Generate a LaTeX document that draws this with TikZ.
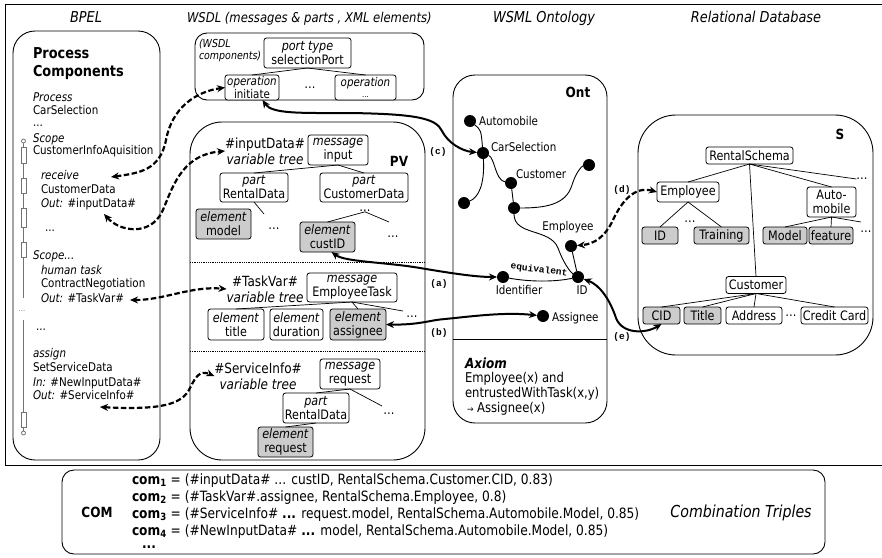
\documentclass[tikz,border=0pt]{standalone}
\usepackage{fontspec}
\setmainfont{DejaVu Sans}[FakeStretch=0.86]
\newfontfamily\codefont{Liberation Mono}
\usetikzlibrary{arrows.meta}
\newcommand\fsz[1]{\fontsize{#1}{#1}\selectfont}

\begin{document}
\begin{tikzpicture}[x=1pt,y=-1pt,
  every node/.style={inner sep=0pt,outer sep=0pt},
  cont/.style={draw,line width=0.9pt,rounded corners=#1},
  bx/.style={draw,line width=0.8pt,rounded corners=2.5pt,fill=white,align=center,font=\fontsize{13}{14}\selectfont},
  gbx/.style={bx,fill=black!20},
  rb/.style={bx,minimum height=17pt,font=\fsz{13}},
  rg/.style={rb,fill=black!20},
  bt/.style={anchor=base west,font=\fsz{12}},
  hdr/.style={anchor=base,font=\itshape\fsz{15}},
  vt/.style={align=center,font=\fontsize{14}{16}\selectfont},
  dt/.style={font=\fsz{13}},
  tl/.style={line width=0.7pt},
  odot/.style={circle,fill=black,minimum size=12pt},
  ol/.style={font=\fsz{12}},
  oe/.style={line width=0.9pt},
  dsh/.style={line width=2.2pt,dash pattern=on 5.5pt off 2.5pt,{Stealth[length=8pt,width=7pt]}-{Stealth[length=8pt,width=7pt]}},
  sol/.style={line width=2pt,{Stealth[length=8pt,width=7pt]}-{Stealth[length=8pt,width=7pt]}},
  lab/.style={font=\codefont\bfseries\fsz{9.5}},
  cl/.style={anchor=base west,font=\fsz{14.2}},
]
\useasboundingbox (0,0) rectangle (882,557);

% outer frame
\draw[line width=1pt] (884,4) -- (5,4) -- (5,465) -- (884,465);

% column headings
\node[hdr] (hBpel) at (86,22.5) {BPEL};
\node[anchor=base west,font=\itshape\fsz{13.5}] (hWsdl) at (187,22.5) {WSDL (messages \& parts , XML elements)};
\node[hdr] (hWsml) at (544,22.5) {WSML Ontology};
\node[hdr] (hRel) at (756,22.5) {Relational Database};

% ---------------- BPEL process components ----------------
\node[cont=22pt,minimum width=147pt,minimum height=429pt] (bpelBox) at (86.5,245.5) {};
\node[bt,font=\bfseries\fsz{15}] (pcA) at (33,58) {Process};
\node[bt,font=\bfseries\fsz{15}] (pcB) at (33,76) {Components};
\node[bt] (prL) at (33,101) {\textit{Process}};
\node[bt] (prN) at (33,114.5) {CarSelection};
\node[bt] (dA) at (33,126) {...};
\node[bt] (scL) at (33,142) {\textit{Scope}};
\node[bt] (scN) at (33,154.5) {CustomerInfoAquisition};
\node[bt] (rcL) at (41,179) {\textit{receive}};
\node[bt] (rcN) at (41,193.5) {CustomerData};
\node[bt] (rcO) at (41,207.5) {\textit{Out:} \#inputData\#};
\node[bt] (dB) at (45,231) {...};
\node[bt] (sc2) at (33,259.5) {\textit{Scope...}};
\node[bt] (htL) at (41,274.5) {\textit{human task}};
\node[bt] (htN) at (41,287.5) {ContractNegotiation};
\node[bt] (htO) at (41,302.5) {\textit{Out:} \#TaskVar\#};
\node[bt] (dC) at (36,330) {...};
\node[bt] (asL) at (33,357.5) {\textit{assign}};
\node[bt] (asN) at (33,371.5) {SetServiceData};
\node[bt] (asI) at (33,386.5) {\textit{In:} \#NewInputData\#};
\node[bt] (asO) at (33,399.5) {\textit{Out:} \#ServiceInfo\#};

% sequence line with activity marks
\draw[black!55,line width=0.8pt] (23.5,143) -- (23.5,298);
\draw[black!55,line width=0.8pt] (23.5,320) -- (23.5,431);
\draw[black!55,line width=0.8pt,fill=white] (23.5,141) circle (2pt);
\draw[black!55,line width=0.8pt,fill=white] (23.5,433) circle (2pt);
\foreach \a/\b in {147/163,178/193,208/227,242/257,412/427}
  \draw[black!55,line width=0.8pt,fill=white] (21,\a) rectangle (26,\b);
\node[text=black!50,font=\fsz{8}] (gap) at (22,311) {...};

% ---------------- WSDL components ----------------
\node[cont=12pt,minimum width=229pt,minimum height=67pt] (wsdlBox) at (309.5,66.5) {};
\node[anchor=base west,align=left,font=\itshape\fontsize{11}{12.5}\selectfont] (wcomp) at (199,59.5) {(WSDL\\components)};
\node[bx,minimum width=87pt,minimum height=30pt] (pType) at (307.5,53) {\textit{port type}\\selectionPort};
\node[bx,minimum width=54pt,minimum height=25pt,font=\fontsize{12}{11.5}\selectfont] (opInit) at (252,87.5) {\textit{operation}\\initiate};
\node[dt] (opDots) at (310,88) {…};
\node[bx,minimum width=61pt,minimum height=25pt,font=\fontsize{12}{11.5}\selectfont] (opMore) at (365.5,87.5) {\textit{operation}\\{\fsz{8}...}};
\draw[tl] (pType.south) -- (opInit.north);
\draw[tl] (pType.south) -- (opMore.north);

% ---------------- process variables ----------------
\node[cont=32pt,minimum width=235pt,minimum height=338pt] (pvBox) at (307.5,291) {};
\draw[densely dotted,line width=0.8pt] (190,262) -- (425,262);
\draw[densely dotted,line width=0.8pt] (190,351) -- (425,351);
\node[font=\bfseries\fsz{14}] (pvT) at (399,161) {PV};

% #inputData#
\node[vt] (ivar) at (265,151) {\#inputData\#\\\textit{variable tree}};
\node[bx,minimum width=60pt,minimum height=30pt] (mIn) at (338,150) {\textit{message}\\input};
\node[bx,minimum width=68pt,minimum height=29pt] (pRD) at (254,187.5) {\textit{part}\\RentalData};
\node[bx,minimum width=88pt,minimum height=29pt] (pCD) at (364,187.5) {\textit{part}\\CustomerData};
\node[gbx,minimum width=55pt,minimum height=30pt] (eModel) at (223.5,224) {\textit{element}\\model};
\node[dt] (d11) at (274,229) {…};
\node[dt] (d12) at (365,211) {…};
\node[gbx,minimum width=55pt,minimum height=30pt] (eCust) at (327.5,237) {\textit{element}\\custID};
\node[dt] (d13) at (393,237) {…};
\coordinate (d11top) at (264,214);
\coordinate (d13top) at (389,222);
\draw[tl] (mIn.south) -- (pRD.north);
\draw[tl] (mIn.south) -- (pCD.north);
\draw[tl] (pRD.south) -- (d11top);
\draw[tl] (d12.south) -- (eCust.north);
\draw[tl] (d12.south) -- (d13top);

% #TaskVar#
\node[vt] (tvar) at (265,289) {\#TaskVar\#\\\textit{variable tree}};
\node[bx,minimum width=90pt,minimum height=29pt] (mET) at (352,287.5) {\textit{message}\\EmployeeTask};
\node[bx,minimum width=56pt,minimum height=31pt] (eTitle) at (236,324.5) {\textit{element}\\title};
\node[bx,minimum width=53pt,minimum height=31pt] (eDur) at (296.5,324.5) {\textit{element}\\duration};
\node[gbx,minimum width=56pt,minimum height=31pt] (eAssg) at (358,324.5) {\textit{element}\\assignee};
\node[dt] (d21) at (412,317) {…};
\coordinate (d21top) at (403,311);
\draw[tl] (mET.south) -- (eTitle.north);
\draw[tl] (mET.south) -- (eAssg.north);
\draw[tl] (mET.south) -- (d21top);

% #ServiceInfo#
\node[vt] (svar) at (258,376) {\#ServiceInfo\#\\\textit{variable tree}};
\node[bx,minimum width=60pt,minimum height=30pt] (mReq) at (350,374) {\textit{message}\\request};
\node[bx,minimum width=66pt,minimum height=30pt] (pRD2) at (316,408) {\textit{part}\\RentalData};
\node[gbx,minimum width=55pt,minimum height=30pt] (eReq) at (285.5,442) {\textit{element}\\request};
\node[dt] (d31) at (389,414) {…};
\coordinate (d31top) at (382,406);
\draw[tl] (mReq.south) -- (pRD2.north);
\draw[tl] (mReq.south) -- (d31top);
\draw[tl] (pRD2.south) -- (eReq.north);

% ---------------- ontology ----------------
\node[cont=22pt,minimum width=154pt,minimum height=348pt] (ontBox) at (530,249) {};
\draw[line width=0.9pt] (453,339) -- (607,339);
\node[font=\bfseries\fsz{14}] (ontT) at (578,92) {Ont};

\node[odot] (oAuto) at (470,121) {};
\node[odot] (oCar) at (483,153) {};
\node[odot] (oCust) at (511,183) {};
\node[odot] (oTR) at (589,165) {};
\node[odot] (oLeft) at (464,203) {};
\node[odot] (oJn) at (514,208) {};
\node[odot] (oEmp) at (571,246) {};
\node[odot] (oID) at (578,277) {};
\node[odot] (oIdent) at (503,277) {};
\node[odot] (oAssg) at (543,316) {};

\node[ol,anchor=west] (lAuto) at (479,121) {Automobile};
\node[ol,anchor=west] (lCar) at (491,147) {CarSelection};
\node[ol,anchor=west] (lCust) at (516,174) {Customer};
\node[ol] (lEmp) at (568,227) {Employee};
\node[ol] (lIdent) at (519,290) {Identifier};
\node[ol] (lID) at (582,290) {ID};
\node[ol,anchor=west] (lAssg) at (552,318) {Assignee};

\draw[oe] (oAuto) .. controls (481,130) .. (oCar);
\draw[oe] (oCar) .. controls (485,185) and (478,198) .. (oLeft);
\draw[oe] (oCar) .. controls (495,158) and (495,180) .. (oCust);
\draw[oe] (oCust) -- (oJn);
\draw[oe] (oJn) .. controls (545,208) and (566,205) .. (572,185) .. controls (576,172) and (582,166) .. (oTR);
\draw[oe] (oJn) .. controls (514,236) and (550,228) .. (558,248) .. controls (563,262) and (570,272) .. (oID);
\draw[oe] (oEmp) -- (oID);
\draw[oe] (oIdent) .. controls (530,282) and (555,282) .. (oID);
\node[font=\codefont\bfseries\fsz{9.5},rotate=-7] (eqv) at (539,270) {equivalent};

\node[anchor=base west,font=\bfseries\itshape\fsz{14}] (axT) at (465,368) {Axiom};
\node[anchor=base west,align=left,font=\fontsize{13.5}{15}\selectfont] (axB) at (465,412.5) {Employee(x) and\\entrustedWithTask(x,y)\\\hspace{2pt}{\fsz{9}→} Assignee(x)};

% ---------------- relational schema ----------------
\node[cont=38pt,minimum width=235pt,minimum height=240pt] (sBox) at (755.5,235) {};
\node[font=\bfseries\fsz{14}] (sT) at (840,134) {S};
\node[rb,minimum width=87pt] (rRS) at (749.5,155.5) {RentalSchema};
\node[rb,minimum width=62pt,minimum height=20pt] (rEmp) at (688,192) {Employee};
\node[rb,minimum width=49pt,minimum height=30pt,font=\fontsize{13}{14}\selectfont] (rAuto) at (831.5,202) {Auto-\\mobile};
\node[rg,minimum width=36pt] (rID) at (660,235.5) {ID};
\node[rg,minimum width=55pt] (rTr) at (721.5,235.5) {Training};
\node[rg,minimum width=44pt] (rModel) at (785,235.5) {Model};
\node[rg,minimum width=44pt] (rFeat) at (831,235.5) {feature};
\node[rb,minimum width=60pt] (rCust) at (756,285) {Customer};
\node[rg,minimum width=37pt] (rCID) at (661.5,315.5) {CID};
\node[rg,minimum width=37pt] (rTitle) at (702.5,315.5) {Title};
\node[rb,minimum width=56pt] (rAddr) at (754,315.5) {Address};
\node[rb,minimum width=67pt] (rCC) at (834.5,315.5) {Credit Card};
\node[dt] (rdA) at (862,179) {…};
\node[dt] (rdB) at (690,222) {…};
\node[dt] (rdC) at (866,232) {…};
\node[dt] (rdD) at (791,316) {…};
\coordinate (rdCtop) at (861,222);
\draw[tl] (rRS.south) -- (rEmp.north);
\draw[tl] (rRS.south) -- (rCust.north);
\draw[tl] (rRS.south) -- (rAuto.north);
\draw[tl] (rRS.south) -- (rdA.west);
\draw[tl] (rEmp.south) -- (rID.north);
\draw[tl] (rEmp.south) -- (rTr.north);
\draw[tl] (rAuto.south) -- (rModel.north);
\draw[tl] (rAuto.south) -- (rFeat.north);
\draw[tl] (rAuto.south) -- (rdCtop);
\draw[tl] (rCust.south) -- (rCID.north);
\draw[tl] (rCust.south) -- (rTitle.north);
\draw[tl] (rCust.south) -- (rAddr.north);
\draw[tl] (rCust.south) -- (rCC.north);

% ---------------- correspondences ----------------
\coordinate (e1) at (111,177);
\coordinate (e2) at (104,214);
\coordinate (e3) at (130,300);
\coordinate (e4) at (100,407);
\draw[dsh] (e1) .. controls (140,173) and (160,170) .. (166,140) .. controls (172,108) and (195,92) .. (opInit.west);
\draw[dsh] (e2) .. controls (120,232) and (150,236) .. (162,212) .. controls (172,190) and (180,155) .. (ivar.west);
\draw[dsh] (e3) .. controls (165,300) and (190,286) .. (tvar.west);
\draw[dsh] (e4) .. controls (160,410) and (182,405) .. (190,388) .. controls (196,376) and (200,370) .. (svar.west);
\draw[dsh] (rEmp.west) .. controls (635,186) and (622,200) .. (612,222) .. controls (605,236) and (595,244) .. (oEmp);
\draw[sol] (oID) .. controls (600,285) and (610,300) .. (616,318) .. controls (622,334) and (645,334) .. (rCID.south);

\draw[sol] (opInit.-50) .. controls (272,114) and (300,113) .. (350,113) .. controls (415,114) and (436,118) .. (442,131) .. controls (448,143) and (462,151) .. (oCar);
\draw[sol] (eCust.-75) .. controls (345,262) and (385,262) .. (420,268) .. controls (450,273) and (475,277) .. (oIdent);
\draw[sol] (eAssg.east) .. controls (420,325) and (430,320) .. (445,319) .. controls (475,316) and (505,312) .. (oAssg);

\node[lab] (la) at (439,284) {(a)};
\node[lab] (lb) at (439,333) {(b)};
\node[lab] (lc) at (438,152) {(c)};
\node[lab] (ld) at (622,190) {(d)};
\node[lab] (le) at (622,337) {(e)};

% ---------------- combination triples ----------------
\node[cont=12pt,minimum width=763pt,minimum height=84pt] (comBox) at (443.5,512) {};
\node[font=\bfseries\fsz{14}] (comT) at (97,512) {COM};
\node[cl] (c1) at (132,484.5) {\textbf{com\textsubscript{1}} = (\#inputData\# ... custID, RentalSchema.Customer.CID, 0.83)};
\node[cl] (c2) at (132,501.5) {\textbf{com\textsubscript{2}} = (\#TaskVar\#.assignee, RentalSchema.Employee, 0.8)};
\node[cl] (c3) at (132,518.5) {\textbf{com\textsubscript{3}} = (\#ServiceInfo\# \textbf{...} request.model, RentalSchema.Automobile.Model, 0.85)};
\node[cl] (c4) at (132,535.5) {\textbf{com\textsubscript{4}} = (\#NewInputData\# \textbf{...} model, RentalSchema.Automobile.Model, 0.85)};
\node[cl] (c5) at (142,548) {\textbf{...}};
\node[anchor=base,font=\itshape\fsz{16.5}] (ctT) at (741,517) {Combination Triples};
\end{tikzpicture}
\end{document}
